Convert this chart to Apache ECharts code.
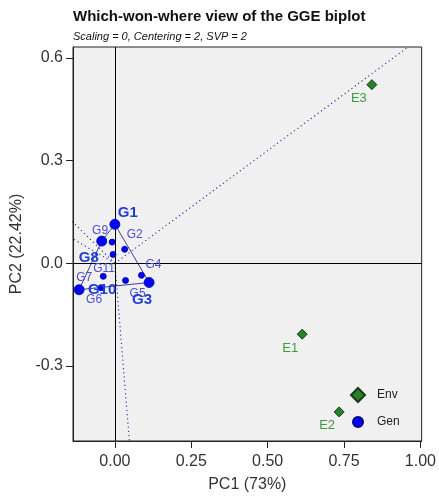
<!DOCTYPE html>
<html><head><meta charset="utf-8">
<script src="https://cdn.jsdelivr.net/npm/echarts@6/dist/echarts.min.js"></script>
<style>html,body{margin:0;padding:0;background:#fff}#c{width:439px;height:498px}</style>
</head><body><div id="c"></div>
<script>
// ---- data ----
const genNames = ['G1','G2','G3','G4','G5','G6','G7','G8','G9','G10','G11'];
const genPC1 = [0.000, 0.032, 0.112, 0.087, 0.035, -0.045, -0.038, -0.043, -0.009, -0.117, -0.006];
const genPC2 = [0.114, 0.041, -0.056, -0.035, -0.050, -0.071, -0.038, 0.065, 0.062, -0.077, 0.026];
const envNames = ['E1','E2','E3'];
const envPC1 = [0.613, 0.734, 0.841];
const envPC2 = [-0.207, -0.434, 0.522];
const vertexGen = ['G1','G3','G10','G8'];   // convex hull order
const xTicks = [0, 0.25, 0.5, 0.75, 1.0];
const yTicks = [-0.3, 0, 0.3, 0.6];

// ---- label placement (style) ----
const genLabelOffset = {G1:[13,-11],G2:[10,-15],G3:[-7,17],G4:[12,-11],G5:[12,13],G6:[-7,12],G7:[-19,1],G8:[-13,17],G9:[-12,-11],G10:[23,0],G11:[-9,14]};
const envLabelOffset = {E1:[-12,14],E2:[-12,14],E3:[-13,14]};

const FONT = 'Liberation Sans';
const gIdx = n => genNames.indexOf(n);
const isVertex = n => vertexGen.includes(n);

const smallGen = [], bigGen = [];
genNames.forEach((n,i)=>{
  const item = {name:n, value:[genPC1[i], genPC2[i]], label:{offset:genLabelOffset[n]}};
  (isVertex(n) ? bigGen : smallGen).push(item);
});
const envData = envNames.map((n,i)=>({name:n, value:[envPC1[i], envPC2[i]], label:{offset:envLabelOffset[n]}}));

// polygon
const hull = vertexGen.map(n=>[genPC1[gIdx(n)], genPC2[gIdx(n)]]);
const polyData = hull.concat([hull[0]]);

// sector rays: perpendicular from origin to each hull edge
const rays = [];
for (let k=0;k<hull.length;k++){
  const a = hull[k], b = hull[(k+1)%hull.length];
  const dx = b[0]-a[0], dy = b[1]-a[1];
  const t = -(a[0]*dx + a[1]*dy)/(dx*dx+dy*dy);
  const px = a[0]+t*dx, py = a[1]+t*dy;
  const L = Math.hypot(px,py);
  rays.push([[0,0],[px/L*3, py/L*3]]);
}

const chart = echarts.init(document.getElementById('c'), null, {renderer:'canvas'});
const raySeries = rays.map(r=>({
  type:'line', data:r, showSymbol:false, silent:true, clip:true, z:2,
  lineStyle:{color:'#2a2ab0', width:1.1, type:[1.2,3]}
}));

chart.setOption({
  animation:false,
  backgroundColor:'#ffffff',
  textStyle:{fontFamily:FONT},
  graphic:[
    {type:'text', left:73, top:9, style:{text:'Which-won-where view of the GGE biplot', font:'bold 15px "Liberation Sans"', fill:'#111'}},
    {type:'text', left:73, top:31, style:{text:'Scaling = 0, Centering = 2, SVP = 2', font:'italic 11px "Liberation Sans"', fill:'#111'}}
  ],
  grid:{left:73, right:16, top:47, bottom:57, show:true, backgroundColor:'#f0f0f0', borderColor:'#222', borderWidth:1},
  xAxis:{type:'value', min:-0.137, max:1.004, splitLine:{show:false},
    axisLine:{show:true, onZero:false, lineStyle:{color:'#222'}},
    axisTick:{show:true, length:7, customValues:xTicks, lineStyle:{color:'#222'}},
    axisLabel:{customValues:xTicks, formatter:v=>v.toFixed(2), fontSize:16, color:'#333', margin:13, fontFamily:FONT},
    name:'PC1 (73%)', nameLocation:'middle', nameGap:36, nameTextStyle:{fontSize:16, color:'#333', fontFamily:FONT}},
  yAxis:{type:'value', min:-0.519, max:0.632, splitLine:{show:false},
    axisLine:{show:true, onZero:false, lineStyle:{color:'#222'}},
    axisTick:{show:true, length:7, customValues:yTicks, lineStyle:{color:'#222'}},
    axisLabel:{customValues:yTicks, formatter:v=>v.toFixed(1), fontSize:16, color:'#333', margin:10, fontFamily:FONT},
    name:'PC2 (22.42%)', nameLocation:'middle', nameGap:40, nameTextStyle:{fontSize:16, color:'#333', fontFamily:FONT}},
  legend:[
    {data:[{name:'Env', icon:'diamond'}], left:350, top:387, itemWidth:14, itemHeight:14, selectedMode:false, padding:0,
      textStyle:{fontSize:12, color:'#222', fontFamily:FONT, padding:[0,0,0,7]}},
    {data:[{name:'Gen', icon:'circle'}], left:352, top:416, itemWidth:10, itemHeight:10, selectedMode:false, padding:0,
      textStyle:{fontSize:12, color:'#222', fontFamily:FONT, padding:[0,0,0,9]}}
  ],
  series:[
    {type:'scatter', data:[], silent:true, z:1,
      markLine:{symbol:'none', silent:true, animation:false, label:{show:false},
        lineStyle:{color:'#000', type:'solid', width:1}, data:[{xAxis:0},{yAxis:0}]}},
    ...raySeries,
    {type:'line', data:polyData, showSymbol:false, silent:true, z:3,
      lineStyle:{color:'#40409a', width:1}},
    {name:'Env', type:'scatter', data:envData, symbol:'diamond', symbolSize:10, z:4,
      itemStyle:{color:'#2a7f2a', borderColor:'#143d14', borderWidth:1, opacity:1},
      label:{show:true, position:'inside', formatter:'{b}', fontSize:13, color:'#3f9a3f', fontFamily:FONT}},
    {name:'Gen', type:'scatter', data:smallGen, symbol:'circle', symbolSize:6, z:5,
      itemStyle:{color:'#0000ff', borderColor:'#00008b', borderWidth:0.8, opacity:1},
      label:{show:true, position:'inside', formatter:'{b}', fontSize:12, color:'#4f4fd0', fontFamily:FONT}},
    {name:'Gen', type:'scatter', data:bigGen, symbol:'circle', symbolSize:10, z:6,
      itemStyle:{color:'#0000ff', borderColor:'#00008b', borderWidth:0.8, opacity:1},
      label:{show:true, position:'inside', formatter:'{b}', fontSize:15, fontWeight:'bold', color:'#1f3fd4', fontFamily:FONT}}
  ]
});
</script></body></html>
